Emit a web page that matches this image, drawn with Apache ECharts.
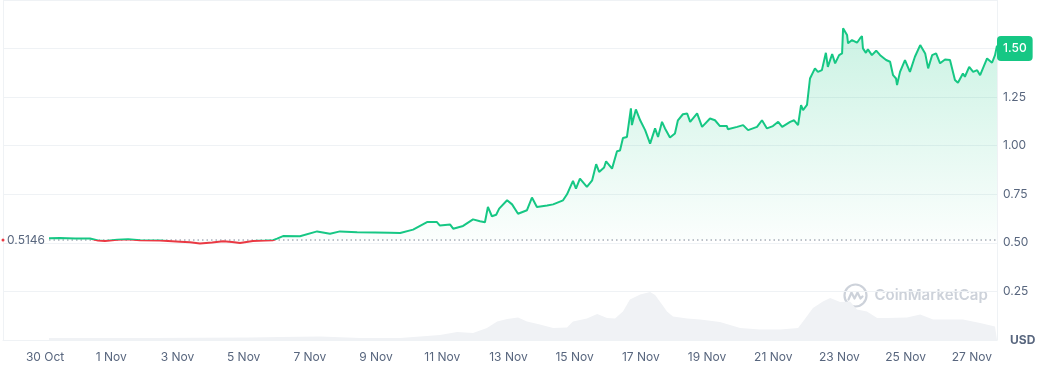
<!DOCTYPE html>
<html>
<head>
<meta charset="utf-8">
<script src="https://cdn.jsdelivr.net/npm/echarts@6/dist/echarts.min.js"></script>
<style>
html,body{margin:0;padding:0;background:#fff;}
#chart{width:1041px;height:366px;}
</style>
</head>
<body>
<div id="chart"></div>
<script>
// x positions are days since 30 Oct 00:00
const tickLabels = ['30 Oct','1 Nov','3 Nov','5 Nov','7 Nov','9 Nov','11 Nov','13 Nov','15 Nov','17 Nov','19 Nov','21 Nov','23 Nov','25 Nov','27 Nov'];
const tickDays = [0,2,4,6,8,10,12,14,16,18,20,22,24,26,28];

const priceDays = [0.12,0.45,0.91,1.36,1.60,1.81,2.18,2.51,2.87,3.47,4.08,4.38,4.68,5.05,5.38,5.65,5.89,6.28,6.65,6.89,7.01,7.19,7.70,8.22,8.61,8.91,9.43,9.97,10.42,10.73,11.12,11.54,11.84,11.93,12.24,12.33,12.63,12.93,13.14,13.29,13.38,13.50,13.63,13.72,13.96,14.11,14.29,14.56,14.71,14.86,15.17,15.35,15.65,15.77,15.95,16.04,16.16,16.37,16.53,16.65,16.74,16.89,16.95,17.13,17.28,17.37,17.46,17.58,17.70,17.73,17.79,17.85,17.98,18.13,18.28,18.43,18.52,18.64,18.73,18.88,19.03,19.12,19.27,19.40,19.49,19.70,19.85,20.09,20.24,20.39,20.60,20.63,20.91,21.09,21.24,21.51,21.66,21.81,21.99,22.15,22.27,22.51,22.63,22.75,22.84,22.90,23.02,23.11,23.26,23.35,23.47,23.59,23.65,23.78,23.87,23.99,24.08,24.11,24.23,24.26,24.38,24.44,24.53,24.62,24.68,24.71,24.80,24.86,24.98,25.11,25.23,25.41,25.53,25.62,25.71,25.74,25.83,25.98,26.13,26.28,26.44,26.59,26.68,26.80,26.92,27.04,27.19,27.34,27.49,27.58,27.73,27.79,27.92,28.04,28.16,28.25,28.46,28.61,28.70,28.76];
const priceValues = [0.524,0.525,0.523,0.522,0.512,0.510,0.516,0.518,0.513,0.512,0.506,0.503,0.497,0.502,0.508,0.505,0.499,0.510,0.512,0.514,0.522,0.535,0.534,0.559,0.547,0.559,0.554,0.553,0.552,0.551,0.568,0.607,0.607,0.589,0.594,0.573,0.587,0.621,0.611,0.606,0.685,0.637,0.645,0.676,0.719,0.698,0.650,0.668,0.733,0.685,0.692,0.698,0.719,0.750,0.819,0.779,0.831,0.788,0.822,0.905,0.865,0.888,0.920,0.882,0.972,0.975,1.040,1.045,1.192,1.106,1.148,1.187,1.131,1.080,1.011,1.089,1.045,1.123,1.089,1.042,1.063,1.131,1.162,1.166,1.123,1.166,1.097,1.140,1.131,1.101,1.101,1.085,1.097,1.106,1.080,1.097,1.131,1.089,1.101,1.123,1.097,1.123,1.131,1.106,1.209,1.183,1.210,1.346,1.398,1.380,1.389,1.478,1.406,1.472,1.424,1.466,1.475,1.604,1.570,1.527,1.544,1.552,1.530,1.552,1.564,1.501,1.478,1.496,1.466,1.489,1.466,1.441,1.432,1.363,1.346,1.312,1.380,1.441,1.380,1.458,1.518,1.475,1.398,1.466,1.475,1.424,1.444,1.441,1.338,1.324,1.372,1.355,1.406,1.380,1.389,1.363,1.449,1.427,1.466,1.515];

const volumeDays = [0.12,3.17,6.19,7.10,8.31,9.52,10.73,11.33,11.93,12.45,12.93,13.35,13.66,13.96,14.29,14.56,14.95,15.35,15.77,15.95,16.37,16.68,16.98,17.22,17.46,17.67,17.98,18.28,18.43,18.64,18.79,18.97,19.40,19.79,20.39,21.00,21.60,22.21,22.75,22.90,23.20,23.50,23.72,24.02,24.32,24.53,24.83,25.14,25.44,26.04,26.44,26.83,27.25,27.73,28.25,28.70,28.76];
const volumeValues = [4,4,5,6,7,4,4,7,10,16,14,24,37,42,45,37,31,24,25,37,43,52,44,43,57,81,91,96,90,71,57,47,43,41,36,24,21,21,24,37,64,77,84,76,77,61,57,44,44,45,51,41,41,41,34,27,27];

const openPrice = 0.5146;
const currentPrice = 1.50;
const yTickStep = 0.25;

const GREEN = '#16c784', RED = '#ea3943', AXIS_TXT = '#58667e';
const xMin = -1.27, xMax = 28.76;

const chart = echarts.init(document.getElementById('chart'), null, {renderer:'canvas'});
chart.setOption({
  animation: false,
  backgroundColor: '#ffffff',
  grid: {left: 3, right: 44, top: 0, bottom: 26},
  xAxis: {
    type: 'value', min: xMin, max: xMax,
    axisLine: {show: true, onZero: false, lineStyle: {color: '#eff2f5'}},
    axisTick: {show: false},
    splitLine: {show: false},
    axisLabel: {
      customValues: tickDays,
      formatter: v => tickLabels[tickDays.indexOf(Math.round(v))] || '',
      color: AXIS_TXT, fontFamily: 'Inter', fontSize: 12, margin: 11
    }
  },
  yAxis: [{
    type: 'value', position: 'right', min: 0, max: 1.75, interval: yTickStep,
    axisLine: {show: true, onZero: false, lineStyle: {color: '#eff2f5'}},
    axisTick: {show: false},
    splitLine: {show: true, lineStyle: {color: '#eff2f5', width: 1}},
    axisLabel: {
      margin: 6, color: AXIS_TXT, fontFamily: 'Inter', fontSize: 12,
      formatter: v => {
        if (v === 0) return '{u|USD}';
        if (v >= 1.75 || Math.abs(v - currentPrice) < 0.1) return '';
        return v.toFixed(2);
      },
      rich: {u: {fontWeight: 'bold', color: AXIS_TXT, fontFamily: 'Inter', fontSize: 12, padding: [0,0,0,7]}}
    }
  }, {
    type: 'value', position: 'left', min: 0, max: 680,
    axisLine: {show: true, onZero: false, lineStyle: {color: '#eff2f5'}},
    axisTick: {show: false}, axisLabel: {show: false}, splitLine: {show: false}
  }],
  graphic: [{
    type: 'group', left: 842, top: 282, silent: true,
    children: [
      {type: 'circle', shape: {cx: 12, cy: 12, r: 11}, style: {fill: 'none', stroke: '#cdd2da', lineWidth: 2.2}},
      {type: 'polyline', shape: {points: [[5,16],[8,9],[11,15],[14,9],[17,15],[19,13]]}, style: {fill: 'none', stroke: '#cdd2da', lineWidth: 2.2, lineJoin: 'round', lineCap: 'round'}},
      {type: 'text', x: 31, y: 12, style: {text: 'CoinMarketCap', fill: '#cdd2da', font: '600 15px Inter', verticalAlign: 'middle'}}
    ]
  }],
  series: [{
    name: 'Volume', type: 'line', yAxisIndex: 1, symbol: 'none', z: 1,
    lineStyle: {width: 0}, areaStyle: {color: '#f0f2f5', opacity: 1},
    data: volumeDays.map((d, i) => [d, volumeValues[i]])
  }, {
    name: 'Price', type: 'line', yAxisIndex: 0, symbol: 'none', z: 3,
    lineStyle: {width: 2, color: GREEN},
    areaStyle: {
      origin: openPrice,
      color: new echarts.graphic.LinearGradient(0, 0, 0, 1, [
        {offset: 0, color: 'rgba(22,199,132,0.32)'},
        {offset: 1, color: 'rgba(22,199,132,0.02)'}
      ])
    },
    data: priceDays.map((d, i) => [d, priceValues[i]])
  }, {
    name: 'Open', type: 'line', yAxisIndex: 0, symbol: 'none', z: 2, silent: true,
    lineStyle: {color: '#7d8696', type: [1.5, 3], width: 1},
    data: [[priceDays[0], openPrice], [xMax, openPrice]]
  }, {
    name: 'OpenLabel', type: 'scatter', yAxisIndex: 0, symbolSize: 0, z: 4, silent: true, clip: false,
    itemStyle: {opacity: 1},
    label: {show: true, position: 'left', distance: 4, formatter: openPrice.toFixed(4), color: AXIS_TXT, fontFamily: 'Inter', fontSize: 12},
    data: [[priceDays[0], openPrice]]
  }, {
    name: 'OpenDot', type: 'scatter', yAxisIndex: 0, symbol: 'circle', symbolSize: 3, z: 4, silent: true, clip: false,
    itemStyle: {color: RED, opacity: 1},
    data: [[xMin, openPrice]]
  }, {
    name: 'Current', type: 'scatter', yAxisIndex: 0, symbolSize: 0, z: 5, silent: true, clip: false,
    itemStyle: {opacity: 1},
    label: {show: true, position: 'right', distance: 0, formatter: currentPrice.toFixed(2), color: '#fff', backgroundColor: GREEN,
      borderRadius: 4, padding: [6, 6, 6, 6], lineHeight: 13, fontFamily: 'Inter', fontSize: 12, fontWeight: 500},
    data: [[xMax, currentPrice]]
  }]
});

// Split the price line colour at the opening price (green above, red below)
const H = chart.getHeight();
const yOpen = chart.convertToPixel({yAxisIndex: 0}, openPrice);
const f = Math.min(1, Math.max(0, yOpen / H));
chart.setOption({
  series: [{}, {
    lineStyle: {color: new echarts.graphic.LinearGradient(0, 0, 0, H, [
      {offset: 0, color: GREEN}, {offset: f, color: GREEN},
      {offset: f, color: RED}, {offset: 1, color: RED}
    ], true)}
  }]
});
</script>
</body>
</html>
